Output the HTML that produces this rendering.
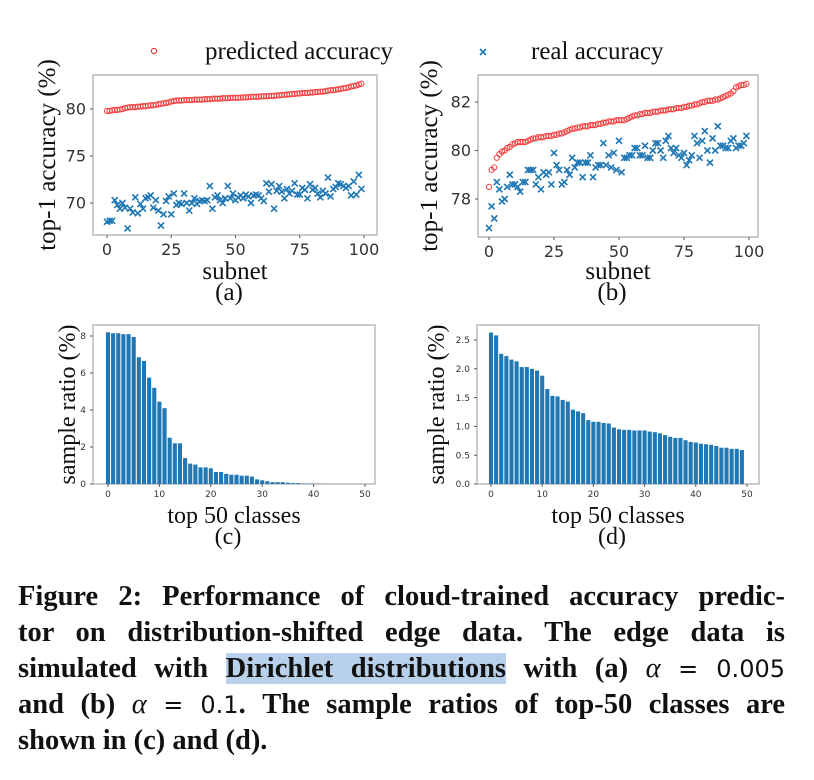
<!DOCTYPE html>
<html><head><meta charset="utf-8">
<style>
body{margin:0;background:#fff;width:814px;height:780px;overflow:hidden;position:relative;font-family:"Liberation Serif",serif;}
svg{position:absolute;left:0;top:0;}
.cap{position:absolute;left:18px;top:579px;width:767px;font-weight:bold;font-size:28.5px;line-height:36px;color:#111;}
.cap .ln{text-align:justify;text-align-last:justify;white-space:nowrap;}
.cap .last{text-align:left;text-align-last:left;}
.hl{background:#b8d0ea;}
.m{font-weight:normal;font-family:"DejaVu Sans",sans-serif;font-size:24px;}
</style></head><body>
<svg id="fig" width="814" height="580" xmlns="http://www.w3.org/2000/svg"></svg>
<div class="cap">
<div class="ln">Figure 2: Performance of cloud-trained accuracy predic-</div>
<div class="ln">tor on distribution-shifted edge data. The edge data is</div>
<div class="ln">simulated with <span class="hl">Dirichlet distributions</span> with (a) <i style="font-weight:normal">α</i> <span class="m">= 0.005</span></div>
<div class="ln">and (b) <i style="font-weight:normal">α</i> <span class="m">= 0.1</span>. The sample ratios of top-50 classes are</div>
<div class="ln last">shown in (c) and (d).</div>
</div>
<script>
const predA=[79.8,79.8,79.85,79.9,79.9,79.95,80.0,80.1,80.15,80.2,80.2,80.2,80.25,80.25,80.3,80.3,80.35,80.4,80.4,80.45,80.5,80.55,80.6,80.65,80.7,80.8,80.85,80.9,80.9,80.9,80.95,80.95,80.95,80.95,81.0,81.0,81.0,81.0,81.05,81.05,81.05,81.1,81.1,81.1,81.1,81.15,81.15,81.15,81.2,81.2,81.2,81.2,81.2,81.25,81.25,81.25,81.3,81.3,81.3,81.3,81.35,81.35,81.35,81.4,81.4,81.4,81.45,81.45,81.5,81.5,81.55,81.55,81.6,81.6,81.65,81.65,81.7,81.7,81.7,81.75,81.75,81.8,81.8,81.85,81.85,81.9,81.95,82.0,82.0,82.05,82.1,82.15,82.2,82.25,82.3,82.4,82.45,82.5,82.6,82.7];
const realA=[68.0,68.1,68.1,70.3,69.8,69.4,70.0,69.5,67.3,69.4,69.0,70.6,68.9,69.9,69.4,70.5,70.6,70.8,69.5,70.3,69.2,67.6,68.8,70.2,70.7,68.8,71.0,69.8,70.0,69.9,71.0,70.0,69.2,70.0,70.5,69.9,70.2,70.3,70.2,70.3,71.8,69.4,70.6,70.8,70.3,70.0,70.5,71.8,70.5,71.0,70.3,70.6,70.8,70.5,70.9,70.7,70.0,70.8,70.9,70.8,70.5,70.2,72.1,71.2,72.0,69.4,71.3,71.8,71.2,70.5,71.5,71.0,71.3,72.1,70.9,70.9,71.6,71.4,70.5,72.0,71.4,71.6,71.0,70.6,71.3,71.0,72.7,70.7,71.5,71.7,72.1,72.0,71.8,71.6,71.8,70.8,72.3,70.9,73.0,71.5];
const predB=[78.5,79.2,79.3,79.7,79.85,79.95,80.0,80.1,80.15,80.25,80.3,80.35,80.35,80.35,80.35,80.4,80.45,80.5,80.5,80.55,80.55,80.55,80.6,80.6,80.6,80.65,80.65,80.7,80.7,80.75,80.8,80.85,80.9,80.9,80.95,80.95,81.0,81.0,81.0,81.05,81.05,81.05,81.1,81.1,81.15,81.15,81.2,81.2,81.2,81.25,81.25,81.25,81.25,81.3,81.35,81.4,81.45,81.45,81.5,81.5,81.55,81.55,81.55,81.6,81.6,81.6,81.65,81.65,81.65,81.7,81.7,81.7,81.75,81.75,81.75,81.8,81.8,81.85,81.85,81.9,81.9,81.95,82.0,82.0,82.05,82.05,82.05,82.1,82.1,82.15,82.2,82.25,82.3,82.35,82.45,82.6,82.65,82.7,82.7,82.75];
const realB=[76.8,77.7,77.2,78.7,78.4,77.9,78.0,78.5,79.0,78.6,78.6,78.5,78.3,78.7,78.7,79.2,79.2,79.2,78.6,78.9,78.4,79.1,79.0,79.1,78.6,79.9,79.4,79.2,78.6,78.7,79.2,79.0,79.7,79.3,79.5,79.5,78.9,79.5,79.5,79.8,78.9,79.3,79.4,79.4,80.3,79.4,79.8,79.3,79.9,79.2,80.4,79.1,79.7,79.7,79.8,79.8,80.1,80.1,79.8,79.8,80.2,79.7,79.7,80.0,80.3,80.3,80.0,79.7,80.4,80.6,80.1,79.9,80.1,79.8,79.7,79.9,79.4,79.6,79.8,80.6,80.3,79.7,80.4,80.8,80.0,79.5,80.5,80.0,81.0,80.2,80.2,80.1,80.1,80.4,80.5,80.1,80.2,80.2,80.3,80.6];
const barsC=[8.2,8.15,8.15,8.1,8.1,7.95,6.85,6.65,5.75,5.2,4.45,4.1,2.5,2.2,2.2,1.4,1.1,1.05,0.9,0.9,0.85,0.65,0.65,0.55,0.5,0.5,0.45,0.45,0.4,0.25,0.2,0.15,0.1,0.1,0.1,0.07,0.05,0.05,0.02,0.02,0.01,0.01,0.01,0.005,0.005,0.003,0.002,0.001,0.001,0.001];
const barsD=[2.63,2.58,2.26,2.22,2.16,2.13,2.03,2.03,2.0,1.97,1.88,1.65,1.53,1.52,1.46,1.43,1.29,1.26,1.23,1.11,1.08,1.08,1.06,1.05,0.98,0.95,0.94,0.94,0.93,0.93,0.93,0.91,0.9,0.88,0.85,0.82,0.80,0.80,0.76,0.73,0.72,0.70,0.69,0.68,0.66,0.63,0.63,0.61,0.61,0.59];
const ticksTopX=[0,25,50,75,100];
const ticksAY=[70,75,80];
const ticksBY=[78,80,82];
const ticksBotX=[0,10,20,30,40,50];
const ticksCY=[0,2,4,6,8];
const ticksDY=[0,0.5,1.0,1.5,2.0,2.5];

const NS="http://www.w3.org/2000/svg";
const svg=document.getElementById('fig');
function mk(tag,attrs,parent){const e=document.createElementNS(NS,tag);for(const k in attrs)e.setAttribute(k,attrs[k]);(parent||svg).appendChild(e);return e;}
function txt(s,attrs,parent){const e=mk('text',attrs,parent);e.textContent=s;return e;}
function lin(d0,d1,r0,r1){return v=>r0+(v-d0)*(r1-r0)/(d1-d0);}

function panel(p){
  const g=mk('g',{});
  
  
  const fr=mk('rect',{x:p.fx0,y:p.fy0,width:p.fx1-p.fx0,height:p.fy1-p.fy0,fill:'none',stroke:'#bbb','stroke-width':1.5},g);
  
  
  p.xt.forEach(t=>{const tx=txt(String(t),{x:p.X(t),y:p.fy1+p.tfs+4,'text-anchor':'middle','font-family':'DejaVu Sans, sans-serif','font-size':p.tfs,fill:'#333'},g);
    
    mk('line',{x1:p.X(t),x2:p.X(t),y1:p.fy1,y2:p.fy1+3,stroke:'#555'},g);});
  p.yt.forEach(t=>{const tx=txt(p.fmt?p.fmt(t):String(t),{x:p.fx0-7,y:p.Y(t)+p.tfs*0.35,'text-anchor':'end','font-family':'DejaVu Sans, sans-serif','font-size':p.tfs,fill:'#333'},g);
    
    mk('line',{x1:p.fx0-3,x2:p.fx0,y1:p.Y(t),y2:p.Y(t),stroke:'#555'},g);});
  const yl=txt(p.ylab,{x:0,y:0,transform:`translate(${p.ylx},${(p.fy0+p.fy1)/2}) rotate(-90)`,'text-anchor':'middle','font-size':p.yfs,fill:'#111'},g);
  
  const xl=txt(p.xlab,{x:(p.fx0+p.fx1)/2,y:p.xly,'text-anchor':'middle','font-size':p.yfs,fill:'#111'},g);
  
  const sl=txt(p.sub,{x:(p.fx0+p.fx1)/2-6,y:p.xly+21,'text-anchor':'middle','font-size':p.yfs,fill:'#111'},g);
  
  return g;
}
function scatter(g,X,Y,pred,real){
  pred.forEach((v,i)=>{const c=mk('circle',{cx:X(i),cy:Y(v),r:2.6,fill:'none',stroke:'#f03030','stroke-width':1.1,opacity:0.85},g);
    });
  real.forEach((v,i)=>{const x=X(i),y=Y(v),s=3;const p=mk('path',{d:`M${x-s},${y-s}L${x+s},${y+s}M${x-s},${y+s}L${x+s},${y-s}`,stroke:'#1f77b4','stroke-width':1.6},g);
    });
}
function bars(g,X,Y,vals){
  const w=X(0.8)-X(0);
  vals.forEach((v,i)=>{const r=mk('rect',{x:X(i)-w/2,y:Y(v),width:w,height:Math.max(0,Y(0)-Y(v)),fill:'#1f77b4'},g);
    });
}
{const X=lin(0,100,107,364),Y=lin(70,80,203,109);
 const g=panel({name:'panel-a',fx0:93,fx1:377,fy0:75,fy1:235,X,Y,xt:ticksTopX,yt:ticksAY,tfs:16,ylab:'top-1 accuracy (%)',ylx:55,yfs:25,xlab:'subnet',xly:279,sub:'(a)'});
 scatter(g,X,Y,predA,realA);}
{const X=lin(0,100,489,749),Y=lin(78,82,199,102);
 const g=panel({name:'panel-b',fx0:478,fx1:758,fy0:75,fy1:237,X,Y,xt:ticksTopX,yt:ticksBY,tfs:16,ylab:'top-1 accuracy (%)',ylx:437,yfs:25,xlab:'subnet',xly:279,sub:'(b)'});
 scatter(g,X,Y,predB,realB);}
{const X=lin(0,50,108,365),Y=lin(0,8,484,336);
 const g=panel({name:'panel-c',fx0:93,fx1:375,fy0:325,fy1:484,X,Y,xt:ticksBotX,yt:ticksCY,tfs:9,ylab:'sample ratio (%)',ylx:75,yfs:24,xlab:'top 50 classes',xly:523,sub:'(c)'});
 bars(g,X,Y,barsC);}
{const X=lin(0,50,491,747),Y=lin(0,2.5,484,340);
 const g=panel({name:'panel-d',fx0:477,fx1:759,fy0:325,fy1:484,X,Y,xt:ticksBotX,yt:ticksDY,tfs:9,fmt:t=>t.toFixed(1),ylab:'sample ratio (%)',ylx:444,yfs:24,xlab:'top 50 classes',xly:523,sub:'(d)'});
 bars(g,X,Y,barsD);}
{const g=mk('g',{});
 const c=mk('circle',{cx:154,cy:51,r:2.6,fill:'none',stroke:'#f03030','stroke-width':1.1},g);
 
 const t1=txt('predicted accuracy',{x:205,y:59,'font-size':25,fill:'#111'},g);
 
 const p=mk('path',{d:'M480,49L486,55M480,55L486,49',stroke:'#1f77b4','stroke-width':1.6},g);
 
 const t2=txt('real accuracy',{x:531,y:59,'font-size':25,fill:'#111'},g);
 }
</script>
</body></html>
